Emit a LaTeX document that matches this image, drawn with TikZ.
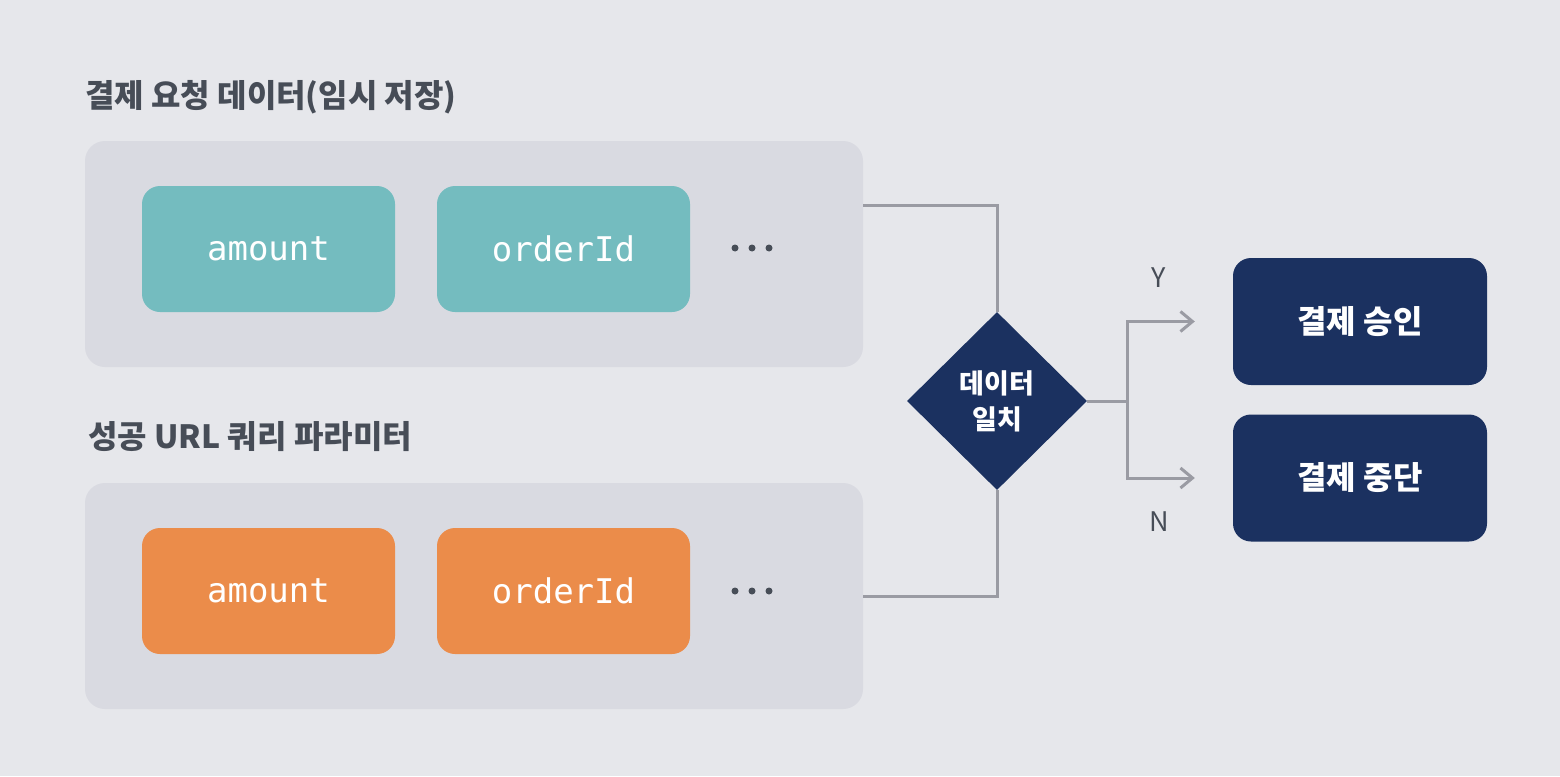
\documentclass[tikz,border=0pt]{standalone}
\usepackage{fontspec}
\usetikzlibrary{shapes.geometric,arrows.meta}
\setmainfont{Noto Sans CJK KR}
\newfontfamily\codeFont{DejaVu Sans Mono}
\definecolor{pageBg}{HTML}{E6E7EB}
\definecolor{panelBg}{HTML}{D9DAE1}
\definecolor{titleInk}{HTML}{474D57}
\definecolor{tealBox}{HTML}{74BCBF}
\definecolor{orangeBox}{HTML}{EB8C4A}
\definecolor{navyBox}{HTML}{1B3160}
\definecolor{linkGray}{HTML}{9A9BA3}
\tikzset{
  groupTitle/.style={anchor=west, inner sep=0pt, text=titleInk,
    font=\fontsize{32}{36}\selectfont\bfseries},
  panel/.style={fill=panelBg, rounded corners=20pt, minimum width=778pt,
    minimum height=226pt},
  fieldBox/.style={rounded corners=18pt, minimum width=253pt,
    minimum height=126pt, text=white, font=\codeFont\fontsize{34}{36}\selectfont},
  resultBox/.style={fill=navyBox, rounded corners=18pt, minimum width=254pt,
    minimum height=127pt, text=white, font=\fontsize{32}{36}\selectfont\bfseries},
  checkBox/.style={diamond, fill=navyBox, inner sep=0pt, minimum width=180pt,
    minimum height=178pt, text=white, align=center,
    font=\fontsize{27}{36}\selectfont\bfseries},
  link/.style={draw=linkGray, line width=3pt},
  branchLabel/.style={text=titleInk, font=\fontsize{27}{30}\selectfont}
}
\begin{document}
\begin{tikzpicture}[x=1pt,y=-1pt]
\fill[pageBg] (0,0) rectangle (1560,776);
% temporarily stored request data
\node[groupTitle] (reqTitle) at (85,97) {결제 요청 데이터(임시 저장)};
\node[panel] (reqPanel) at (474,254) {};
\node[fieldBox, fill=tealBox] (reqAmount) at (268.5,249) {amount};
\node[fieldBox, fill=tealBox] (reqOrder) at (563.5,249) {orderId};
\foreach \dx in {735,752,769}
  \fill[titleInk] (\dx,248) circle (3.5pt);
% success url query
\node[groupTitle] (sucTitle) at (88,437) {성공 URL 쿼리 파라미터};
\node[panel] (sucPanel) at (474,596) {};
\node[fieldBox, fill=orangeBox] (sucAmount) at (268.5,591) {amount};
\node[fieldBox, fill=orangeBox] (sucOrder) at (563.5,591) {orderId};
\foreach \dx in {735,752,769}
  \fill[titleInk] (\dx,591) circle (3.5pt);
% check
\node[checkBox] (check) at (997,401) {데이터\\일치};
\node[resultBox] (approve) at (1360,321.5) {결제 승인};
\node[resultBox] (stop) at (1360,478) {결제 중단};
\coordinate (split) at (1127,401);
\draw[link] ([yshift=49pt]reqPanel.east) -| (check.north);
\draw[link] (sucPanel.east) -| (check.south);
\draw[link] (check.east) -- (split);
\draw[link, -{Straight Barb[length=12pt,width=20pt]}] (split) |- ([xshift=-38pt]approve.west);
\draw[link, -{Straight Barb[length=12pt,width=20pt]}] (split) |- ([xshift=-38pt]stop.west);
\node[branchLabel] (yesLabel) at (1159,278) {Y};
\node[branchLabel] (noLabel) at (1159,522) {N};
\end{tikzpicture}
\end{document}
